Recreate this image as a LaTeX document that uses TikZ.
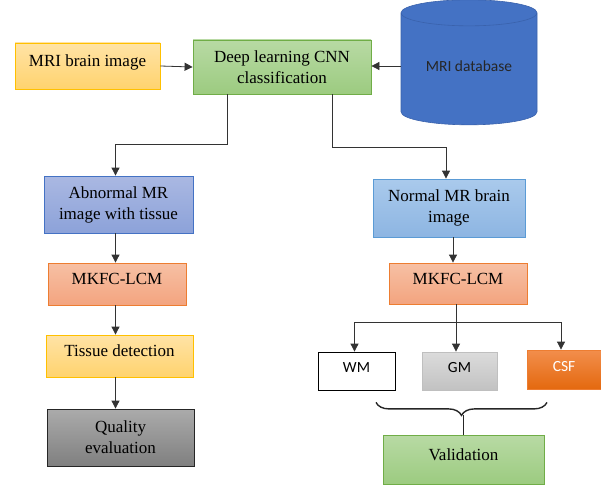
\documentclass[tikz,border=0pt]{standalone}
\usepackage{fontspec}
\setmainfont{Liberation Serif}
\newfontfamily\calibri{Carlito}
\usetikzlibrary{shapes.geometric,decorations.pathreplacing,arrows.meta}
\definecolor{goldline}{HTML}{FFC000}
\definecolor{goldtop}{HTML}{FFE3A6}
\definecolor{goldbot}{HTML}{FFD36E}
\definecolor{greenline}{HTML}{70AD47}
\definecolor{greentop}{HTML}{B8DAA4}
\definecolor{greenbot}{HTML}{9CCB80}
\definecolor{indigoline}{HTML}{4472C4}
\definecolor{indigotop}{HTML}{AAB8E2}
\definecolor{indigobot}{HTML}{8CA2D9}
\definecolor{skyline}{HTML}{5B9BD5}
\definecolor{skytop}{HTML}{AACAEC}
\definecolor{skybot}{HTML}{8DB5E2}
\definecolor{salmonline}{HTML}{ED7D31}
\definecolor{salmontop}{HTML}{F7C0A4}
\definecolor{salmonbot}{HTML}{F3A47F}
\definecolor{dbblue}{HTML}{4472C4}
\definecolor{dbline}{HTML}{3A62AC}
\definecolor{csftop}{HTML}{F28E4C}
\definecolor{csfbot}{HTML}{E4690F}
\tikzstyle{process} = [rectangle, draw, align=center, line width=0.8pt, font=\fontsize{17}{21}\selectfont]
\tikzstyle{oneline} = [text depth=10pt]
\tikzstyle{goldbox} = [process, draw=goldline, top color=goldtop, bottom color=goldbot]
\tikzstyle{greenbox} = [process, draw=greenline, top color=greentop, bottom color=greenbot]
\tikzstyle{indigobox} = [process, draw=indigoline, top color=indigotop, bottom color=indigobot]
\tikzstyle{skybox} = [process, draw=skyline, top color=skytop, bottom color=skybot]
\tikzstyle{salmonbox} = [process, draw=salmonline, top color=salmontop, bottom color=salmonbot]
\tikzstyle{tissuebox} = [rectangle, draw, line width=0.8pt, font=\calibri\fontsize{15.5}{18}\selectfont, text depth=7pt, minimum height=38pt]
\tikzstyle{database} = [cylinder, shape border rotate=90, aspect=0.28, draw=dbline, fill=dbblue, line width=0.6pt, font=\calibri\fontsize{15.5}{18}\selectfont, text=black!85, text depth=9pt]
\tikzstyle{arrow} = [->, >={Triangle[length=8pt,width=8pt]}, line width=0.8pt, draw=black!80]

\begin{document}
\begin{tikzpicture}[x=1pt, y=-1pt]
	\useasboundingbox (0,0) rectangle (601,484);
	\node (mri) at (87.5, 66) [goldbox, oneline, minimum width=145pt, minimum height=46pt] {MRI brain image};
	\node (cnn) at (282, 67) [greenbox, minimum width=178pt, minimum height=54pt] {Deep learning CNN\\classification};
	\node (db) at (469, 71) [database, minimum width=136pt, minimum height=125pt] {MRI database};
	\node (abn) at (118.5, 204.5) [indigobox, minimum width=149pt, minimum height=57pt] {Abnormal MR\\image with tissue};
	\node (mkleft) at (117, 284) [salmonbox, oneline, minimum width=138pt, minimum height=42pt] {MKFC-LCM};
	\node (tissue) at (119.5, 356) [goldbox, oneline, minimum width=147pt, minimum height=42pt] {Tissue detection};
	\node (quality) at (120.5, 437.5) [process, draw=black!85, top color=black!33, bottom color=black!50, minimum width=147pt, minimum height=57pt] {Quality\\evaluation};
	\node (nor) at (449, 208) [skybox, minimum width=152pt, minimum height=58pt] {Normal MR brain\\image};
	\node (mkright) at (458, 283.5) [salmonbox, oneline, minimum width=138pt, minimum height=41pt] {MKFC-LCM};
	\node (wm) at (356.5, 371) [tissuebox, fill=white, minimum width=77pt] {WM};
	\node (gm) at (459.5, 371) [tissuebox, draw=black!25, top color=black!14, bottom color=black!24, minimum width=75pt] {GM};
	\node (csf) at (564, 369.5) [tissuebox, draw=salmonline, top color=csftop, bottom color=csfbot, text=white, minimum width=74pt, minimum height=39pt] {CSF};
	\node (val) at (463.5, 459.5) [greenbox, oneline, minimum width=161pt, minimum height=49pt] {Validation};
	\draw [arrow] (mri.east) -- (cnn.west);
	\draw [arrow] ([yshift=5pt]db.west) -- ([yshift=5pt]db.west -| cnn.east);
	\draw [arrow] ([xshift=35pt]cnn.south west) -- ++(0,50) -| ([xshift=-3pt]abn.north);
	\draw [arrow] ([xshift=-39pt]cnn.south east) -- ++(0,53) -| ([xshift=-3pt]nor.north);
	\draw [arrow] ([xshift=-3pt]abn.south) -- ([xshift=-3pt]abn.south |- mkleft.north);
	\draw [arrow] ([xshift=-3pt]mkleft.south -| abn.south) -- ([xshift=-3pt]abn.south |- tissue.north);
	\draw [arrow] ([xshift=-3pt]tissue.south -| abn.south) -- ([xshift=-3pt]abn.south |- quality.north);
	\draw [arrow] ([xshift=4pt]nor.south) -- ([xshift=4pt]nor.south |- mkright.north);
	%\draw [arrow] (mkright) -- (gm);
	\coordinate (split) at ([xshift=-2pt, yshift=-18pt]mkright.south);
	\draw [arrow] ([xshift=-2pt]mkright.south) -- (split |- gm.north);
	\draw [arrow] (split) -| ([xshift=-2pt]wm.north);
	\draw [arrow] (split) -| ([xshift=-3pt]csf.north);
	\coordinate (braceleft) at ([shift={(19.5,12)}]wm.south);
	\coordinate (braceright) at ([shift={(-17,13)}]csf.south);
	\draw [decorate, decoration={brace, mirror, amplitude=13pt}, line width=1.4pt, black!85] (braceleft) -- (braceright);
	\draw [line width=1.4pt, black!85] (val.north) -- ++(0,-20);
\end{tikzpicture}
\end{document}
